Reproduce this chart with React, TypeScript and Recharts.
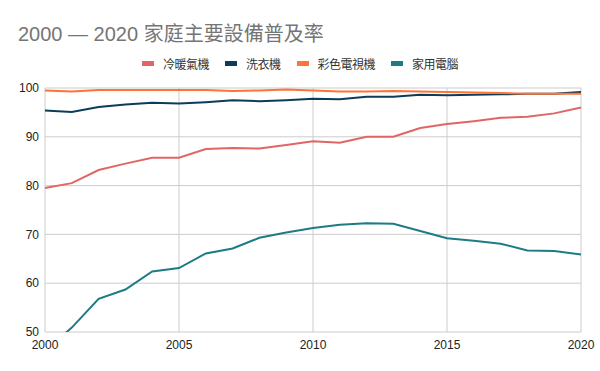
import { LineChart, Line, XAxis, YAxis, CartesianGrid } from "recharts";

const YEARS = [
  2000, 2001, 2002, 2003, 2004, 2005, 2006, 2007, 2008, 2009, 2010,
  2011, 2012, 2013, 2014, 2015, 2016, 2017, 2018, 2019, 2020,
];
const AIRCON = [
  79.5, 80.5, 83.2, 84.5, 85.7, 85.7, 87.5, 87.7, 87.6, 88.3, 89.1,
  88.8, 90.0, 90.0, 91.8, 92.6, 93.2, 93.9, 94.1, 94.8, 96.0,
];
const WASHER = [
  95.4, 95.1, 96.1, 96.6, 97.0, 96.8, 97.1, 97.5, 97.3, 97.5, 97.8,
  97.7, 98.2, 98.2, 98.6, 98.5, 98.6, 98.7, 98.8, 98.8, 99.2,
];
const COLOR_TV = [
  99.5, 99.3, 99.6, 99.6, 99.6, 99.6, 99.6, 99.4, 99.5, 99.7, 99.5,
  99.3, 99.3, 99.4, 99.3, 99.2, 99.1, 99.0, 98.8, 98.8, 98.8,
];
const COMPUTER = [
  46.2, 50.9, 56.8, 58.7, 62.4, 63.1, 66.1, 67.1, 69.3, 70.4, 71.3,
  72.0, 72.3, 72.2, 70.7, 69.2, 68.7, 68.1, 66.7, 66.6, 65.9,
];
const X_TICKS = [2000, 2005, 2010, 2015, 2020];
const Y_TICKS = [50, 60, 70, 80, 90, 100];

const SERIES = [
  { key: "冷暖氣機", color: "#e06666" },
  { key: "洗衣機", color: "#0b3d5a" },
  { key: "彩色電視機", color: "#ff7238" },
  { key: "家用電腦", color: "#1d7b86" },
];

const data = YEARS.map((year, i) => ({
  year,
  冷暖氣機: AIRCON[i],
  洗衣機: WASHER[i],
  彩色電視機: COLOR_TV[i],
  家用電腦: COMPUTER[i],
}));

const FONT = '"Liberation Sans", Arial, "Noto Sans CJK TC", sans-serif';

export default function App() {
  return (
    <div
      style={{
        position: "absolute",
        left: 0,
        top: 0,
        width: 600,
        height: 371,
        background: "#fff",
        fontFamily: FONT,
      }}
    >
      <div
        style={{
          position: "absolute",
          left: 18,
          top: 18,
          fontSize: 20,
          color: "#757575",
          whiteSpace: "nowrap",
        }}
      >
        2000 — 2020 家庭主要設備普及率
      </div>
      <div
        style={{
          position: "absolute",
          left: 0,
          top: 55,
          width: 600,
          display: "flex",
          justifyContent: "center",
          fontSize: 12,
          color: "#333",
          whiteSpace: "nowrap",
        }}
      >
        {SERIES.map((s) => (
          <div
            key={s.key}
            style={{ display: "flex", alignItems: "center", margin: "0 8px" }}
          >
            <span
              style={{
                display: "inline-block",
                width: 12,
                height: 5,
                background: s.color,
                marginRight: 9,
              }}
            />
            <span style={{ letterSpacing: -0.5 }}>{s.key}</span>
          </div>
        ))}
      </div>
      <LineChart
        width={600}
        height={371}
        data={data}
        margin={{ top: 88, right: 19, left: 0, bottom: 0 }}
      >
        <CartesianGrid stroke="#cccccc" verticalValues={X_TICKS} />
        <XAxis
          dataKey="year"
          type="number"
          domain={[2000, 2020]}
          ticks={X_TICKS}
          height={39}
          axisLine={false}
          tickLine={false}
          tickSize={0}
          tickMargin={8}
          tick={{ fill: "#222", fontSize: 12, fontFamily: FONT }}
        />
        <YAxis
          domain={[50, 100]}
          ticks={Y_TICKS}
          allowDataOverflow
          width={45}
          axisLine={false}
          tickLine={false}
          tickSize={0}
          tickMargin={6}
          tick={{ fill: "#222", fontSize: 12, fontFamily: FONT }}
        />
        {SERIES.map((s) => (
          <Line
            key={s.key}
            dataKey={s.key}
            stroke={s.color}
            strokeWidth={2}
            dot={false}
            type="linear"
            isAnimationActive={false}
          />
        ))}
      </LineChart>
    </div>
  );
}
